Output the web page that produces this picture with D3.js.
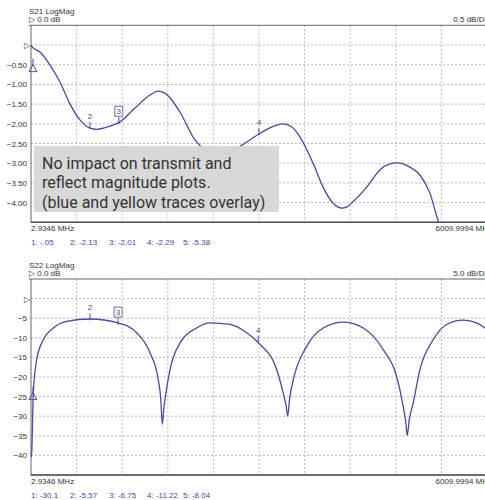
<!DOCTYPE html>
<html>
<head>
<meta charset="utf-8">
<style>
  body { margin: 0; background: #fff; }
  svg { display: block; font-family: 'Liberation Sans', Arial, sans-serif; }
  .small { font-size: 8px; fill: #333; }
  .mk { font-size: 8px; fill: #4646a0; }
</style>
</head>
<body>
<svg width="485" height="500"></svg>
<script src="https://d3js.org/d3.v7.min.js"></script>
<script>
// sweep limits (MHz)
const fStart = 2.9346, fStop = 6009.9994;

// S21 trace, frequency (MHz) / dB
const s21Freq = [3, 16, 121, 253, 385, 517, 648, 780, 872, 1043, 1175, 1373, 1570, 1676, 1781, 1965, 2163, 2295, 2466, 2624, 2821, 3005, 3177, 3321, 3440, 3545, 3717, 3849, 3980, 4099, 4165, 4244, 4428, 4599, 4731, 4836, 4994, 5126, 5258, 5363, 5495, 5653, 6010];
const s21Db = [0, -0.05, -0.18, -0.51, -0.94, -1.5, -1.9, -2.11, -2.14, -2.06, -1.95, -1.6, -1.27, -1.17, -1.24, -1.7, -2.41, -2.66, -2.79, -2.72, -2.49, -2.26, -2.08, -2.0, -2.08, -2.33, -2.99, -3.6, -4.01, -4.14, -4.11, -3.98, -3.6, -3.17, -3.02, -2.99, -3.1, -3.3, -3.76, -4.44, -5.08, -5.38, -5.5];

// S22 trace
const s22Freq = [3, 12, 33, 78, 165, 297, 473, 780, 1153, 1395, 1570, 1680, 1712, 1733, 1750, 1768, 1834, 1966, 2185, 2361, 2624, 2844, 2996, 3239, 3326, 3365, 3384, 3410, 3458, 3634, 3853, 4116, 4380, 4643, 4819, 4906, 4940, 4959, 4985, 5038, 5126, 5301, 5478, 5697, 5873, 5982, 6010];
const s22Db = [-40.5, -39.4, -24.2, -15.6, -10.5, -7.5, -5.8, -5.2, -6.2, -8.7, -13.8, -20.7, -25.5, -32.1, -28.5, -25.8, -18.1, -11.3, -7.5, -6.2, -6.6, -8.7, -11.2, -18.1, -24.2, -27.5, -30, -25.5, -20.7, -12.2, -7.5, -6.0, -7.5, -13.0, -19.8, -27.5, -31.5, -34.9, -31, -26.6, -18.1, -10.5, -6.6, -5.5, -6.2, -7.5, -7.9];

// axis tick values / labels
const s21Ticks = [-0.5, -1, -1.5, -2, -2.5, -3, -3.5, -4];
const s22Ticks = [-5, -10, -15, -20, -25, -30, -35, -40];

// markers 1..5: frequency and readout
const s21MarkFreq = [3, 780, 1160, 3005, 5650];
const s21MarkVal = [-0.05, -2.13, -2.01, -2.29, -5.38];
const s21MarkText = ['1: -.05', '2: -2.13', '3: -2.01', '4: -2.29', '5: -5.38'];
const s22MarkFreq = [3, 780, 1150, 2996, 5900];
const s22MarkVal = [-30.1, -5.57, -6.75, -11.22, -8.04];
const s22MarkText = ['1: -30.1', '2: -5.57', '3: -6.75', '4: -11.22', '5: -8.04'];

const svg = d3.select('svg');
const traceColor = '#4a4a98';
const readoutX = [31, 70, 109, 147, 183];

function panel(cfg) {
  const g = svg.append('g');
  const x = d3.scaleLinear().domain([fStart, fStop]).range([31, 487]);
  const y = d3.scaleLinear().domain(cfg.domain).range([cfg.bottom, cfg.top]);

  // header
  g.append('text').attr('class', 'small').attr('x', 29).attr('y', cfg.top - 11).text(cfg.title);
  g.append('text').attr('class', 'small').attr('x', 29).attr('y', cfg.top - 3).text('\u25B7 0.0 dB');
  g.append('text').attr('class', 'small').attr('x', 492).attr('y', cfg.top - 3)
    .attr('text-anchor', 'end').text(cfg.scaleText);

  // grid
  const xGrid = d3.range(1, 10).map(i => fStart + i * (fStop - fStart) / 10);
  g.append('g').selectAll('line').data(xGrid).join('line')
    .attr('x1', d => x(d)).attr('x2', d => x(d))
    .attr('y1', cfg.top).attr('y2', cfg.bottom)
    .attr('stroke', '#a8a8a8').attr('stroke-width', 0.8).attr('stroke-dasharray', '2,2');
  g.append('g').selectAll('line').data([0].concat(cfg.ticks)).join('line')
    .attr('x1', 31).attr('x2', 487)
    .attr('y1', d => y(d)).attr('y2', d => y(d))
    .attr('stroke', '#a8a8a8').attr('stroke-width', 0.8).attr('stroke-dasharray', '2,2');

  // tick labels
  g.append('g').selectAll('text').data(cfg.ticks).join('text')
    .attr('class', 'small').attr('x', 27).attr('y', d => y(d) + 3)
    .attr('text-anchor', 'end').text(cfg.fmt);
  g.append('text').attr('class', 'small').attr('x', 30).attr('y', y(0) + 3)
    .attr('text-anchor', 'end').text('\u25B7');

  // frame
  g.append('rect').attr('x', 31).attr('y', cfg.top).attr('width', 460).attr('height', cfg.bottom - cfg.top)
    .attr('fill', 'none').attr('stroke', '#666').attr('stroke-width', 1);
  g.append('line').attr('x1', 31).attr('x2', 491).attr('y1', cfg.bottom).attr('y2', cfg.bottom)
    .attr('stroke', '#555').attr('stroke-width', 1.5);
  g.append('line').attr('x1', 29).attr('x2', 31).attr('y1', cfg.top).attr('y2', cfg.top)
    .attr('stroke', '#666');

  // trace
  const clipId = 'clip-' + cfg.title.slice(0, 3);
  g.append('clipPath').attr('id', clipId).append('rect')
    .attr('x', 31).attr('y', cfg.top).attr('width', 460).attr('height', cfg.bottom - cfg.top);
  const pts = cfg.freq.map((f, i) => [f, cfg.db[i]]);
  const line = d3.line().x(d => x(d[0])).y(d => y(d[1])).curve(d3.curveMonotoneX);
  g.append('path').datum(pts).attr('clip-path', `url(#${clipId})`)
    .attr('d', line).attr('fill', 'none').attr('stroke', traceColor).attr('stroke-width', 1.3);

  // marker 1 triangle
  const tx = x(cfg.markFreq[0]) + 2, ty = y(cfg.triVal);
  g.append('line').attr('x1', tx).attr('x2', tx).attr('y1', ty - 10).attr('y2', ty - 3)
    .attr('stroke', traceColor);
  g.append('path').attr('d', `M${tx},${ty - 4} L${tx + 4},${ty + 3} L${tx - 4},${ty + 3} Z`)
    .attr('fill', 'none').attr('stroke', traceColor).attr('stroke-width', 1);

  // markers 2..4
  [1, 2, 3].forEach(i => {
    const mx = x(cfg.markFreq[i]), my = y(cfg.markVal[i]);
    g.append('line').attr('x1', mx).attr('x2', mx).attr('y1', my - 7).attr('y2', my)
      .attr('stroke', traceColor).attr('stroke-width', 1);
    if (i === 2) {
      g.append('rect').attr('x', mx - 4).attr('y', my - 18).attr('width', 8).attr('height', 10)
        .attr('fill', '#fff').attr('stroke', traceColor).attr('stroke-width', 0.8);
    }
    g.append('text').attr('class', 'mk').attr('x', mx).attr('y', my - 10)
      .attr('text-anchor', 'middle').text(i + 1);
  });

  // x labels
  g.append('text').attr('class', 'small').attr('x', 31).attr('y', cfg.bottom + 9).text('2.9346 MHz');
  g.append('text').attr('class', 'small').attr('x', 492).attr('y', cfg.bottom + 9)
    .attr('text-anchor', 'end').text('6009.9994 MHz');

  // marker readouts
  g.append('g').selectAll('text').data(cfg.markText).join('text')
    .attr('class', 'mk').attr('x', (d, i) => readoutX[i]).attr('y', cfg.bottom + 23).text(d => d);

  return { g, x, y };
}

panel({
  title: 'S21 LogMag', scaleText: '0.5 dB/DIV', top: 25.3, bottom: 222.3, domain: [-4.5, 0.5],
  ticks: s21Ticks, fmt: d3.format('.2f'), freq: s21Freq, db: s21Db,
  markFreq: s21MarkFreq, markVal: s21MarkVal, markText: s21MarkText, triVal: -0.6
});

panel({
  title: 'S22 LogMag', scaleText: '5.0 dB/DIV', top: 279, bottom: 475, domain: [-45, 5],
  ticks: s22Ticks, fmt: d3.format('d'), freq: s22Freq, db: s22Db,
  markFreq: s22MarkFreq, markVal: s22MarkVal, markText: s22MarkText, triVal: -25
});

// annotation box
const note = svg.append('g');
note.append('rect').attr('x', 34).attr('y', 146).attr('width', 245).attr('height', 66)
  .attr('fill', '#d6d6d6').attr('opacity', 0.95);
note.selectAll('text').data(['No impact on transmit and', 'reflect magnitude plots.', '(blue and yellow traces overlay)'])
  .join('text').attr('x', 42).attr('y', (d, i) => 168.5 + i * 19.5)
  .attr('font-family', 'Roboto, sans-serif').attr('font-size', 16).attr('fill', '#333')
  .text(d => d);
</script>
</body>
</html>
